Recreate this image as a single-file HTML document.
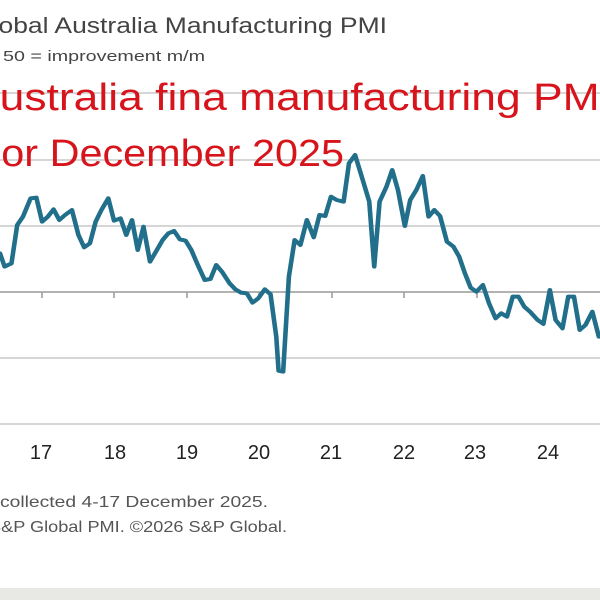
<!DOCTYPE html>
<html><head><meta charset="utf-8"><style>
html,body{margin:0;padding:0;background:#fff;}
svg{display:block;}
</style></head><body>
<svg width="600" height="600" viewBox="0 0 600 600" xmlns="http://www.w3.org/2000/svg">
<rect width="600" height="600" fill="#fff"/>
<rect x="0" y="588" width="600" height="12" fill="#e8e9e4"/>
<g stroke="#c8c8c8" stroke-width="1.5">
<line x1="0" y1="93" x2="600" y2="93"/>
<line x1="0" y1="160" x2="600" y2="160"/>
<line x1="0" y1="226" x2="600" y2="226"/>
<line x1="0" y1="358" x2="600" y2="358"/>
<line x1="0" y1="424" x2="600" y2="424"/>
</g>
<g stroke="#999" stroke-width="1.5">
<line x1="0" y1="292" x2="600" y2="292"/>
<line x1="42" y1="292" x2="42" y2="298"/>
<line x1="114" y1="292" x2="114" y2="298"/>
<line x1="187" y1="292" x2="187" y2="298"/>
<line x1="259" y1="292" x2="259" y2="298"/>
<line x1="332" y1="292" x2="332" y2="298"/>
<line x1="404" y1="292" x2="404" y2="298"/>
<line x1="477" y1="292" x2="477" y2="298"/>
<line x1="549" y1="292" x2="549" y2="298"/>
</g>
<g font-family="Liberation Sans, sans-serif" font-size="20" fill="#222" text-anchor="middle">
<text x="41" y="459">17</text><text x="115" y="459">18</text><text x="187" y="459">19</text>
<text x="259" y="459">20</text><text x="331" y="459">21</text><text x="404" y="459">22</text>
<text x="475" y="459">23</text><text x="548" y="459">24</text>
</g>
<g transform="translate(0,150) scale(0.38265,0.33333)">
<polyline fill="none" stroke="#216f8a" stroke-width="12" stroke-linejoin="round" stroke-linecap="round" points="0,310 12,350 30,340 45,225 60,200 80,145 95,143 110,215 125,200 140,178 155,210 170,195 188,180 205,255 220,292 235,280 250,215 265,180 283,145 298,212 315,205 330,255 345,210 360,300 375,230 392,335 410,300 425,270 440,250 455,243 470,268 485,272 500,300 515,340 535,390 550,387 565,345 580,365 600,400 615,418 630,428 645,430 660,458 675,445 692,418 707,433 722,560 728,662 740,665 755,380 770,270 785,285 802,210 820,262 835,195 850,198 865,140 880,150 898,155 912,40 928,15 948,90 965,155 978,350 992,155 1010,110 1025,60 1040,120 1058,228 1072,150 1088,120 1105,78 1120,200 1135,180 1150,198 1168,275 1185,290 1200,320 1215,370 1230,413 1245,425 1262,405 1278,460 1295,505 1310,490 1325,500 1340,440 1355,440 1370,470 1385,485 1405,510 1420,522 1437,420 1452,510 1470,535 1485,440 1500,440 1515,540 1530,525 1548,485 1565,560 1580,555 1600,550"/>
</g>
<text x="-28" y="33" font-family="Liberation Sans, sans-serif" font-size="22" fill="#444" textLength="415" lengthAdjust="spacingAndGlyphs">Global Australia Manufacturing PMI</text>
<text x="3" y="61" font-family="Liberation Sans, sans-serif" font-size="15" fill="#444" textLength="202" lengthAdjust="spacingAndGlyphs">50 = improvement m/m</text>
<g font-family="Liberation Sans, sans-serif" font-size="38" fill="#d7141c">
<text x="-30" y="110" textLength="642" lengthAdjust="spacingAndGlyphs">Australia fina manufacturing PMI</text>
<text x="-24" y="166" textLength="368" lengthAdjust="spacingAndGlyphs">For December 2025</text>
</g>
<g font-family="Liberation Sans, sans-serif" font-size="16" fill="#555">
<text x="0" y="507" textLength="268" lengthAdjust="spacingAndGlyphs">collected 4-17 December 2025.</text>
<text x="-11" y="532" textLength="298" lengthAdjust="spacingAndGlyphs">S&amp;P Global PMI. ©2026 S&amp;P Global.</text>
</g>
</svg>
</body></html>
